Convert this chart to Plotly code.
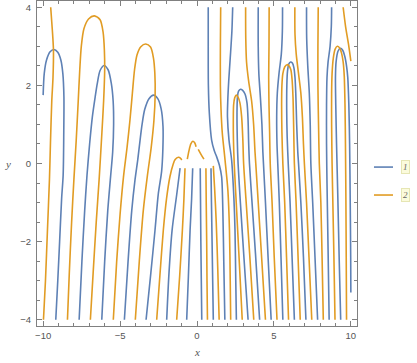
import plotly.graph_objects as go

BLUE = "#5E81B5"
GOLD = "#E19C24"

# ---------------- series 1 (blue) zero-contour paths, (x, y)
b_edge_arch = [(-10.0, 1.75), (-9.93, 2.3), (-9.78, 2.65), (-9.55, 2.86), (-9.30, 2.92), (-9.05, 2.85),
               (-8.85, 2.65), (-8.72, 2.3), (-8.65, 1.7), (-8.66, 0.8), (-8.70, -0.3), (-8.80, -0.9),
               (-8.93, -2.0), (-9.05, -3.0), (-9.18, -4.0)]
b_arch_m6 = [(-7.66, -4.0), (-7.48, -2.5), (-7.30, -1.2), (-7.15, -0.3), (-6.98, 0.5), (-6.80, 1.2),
             (-6.62, 1.7), (-6.48, 2.05), (-6.30, 2.38), (-6.04, 2.51), (-5.78, 2.40), (-5.57, 2.05),
             (-5.45, 1.6), (-5.42, 1.0), (-5.48, 0.3), (-5.62, -0.35), (-5.80, -1.2), (-6.0, -2.5), (-6.19, -4.0)]
b_arch_m3 = [(-4.72, -4.0), (-4.48, -2.5), (-4.24, -1.2), (-4.03, -0.42), (-3.85, 0.1), (-3.70, 0.6),
             (-3.57, 1.0), (-3.40, 1.38), (-3.12, 1.66), (-2.82, 1.75), (-2.55, 1.66), (-2.33, 1.4),
             (-2.21, 0.95), (-2.22, 0.35), (-2.30, -0.2), (-2.51, -0.76), (-2.73, -1.71), (-3.0, -2.8), (-3.31, -4.0)]
b_gap_m1 = [(-1.10, -0.12), (-1.32, -0.8), (-1.62, -1.71), (-1.82, -2.8), (-1.97, -4.0)]
b_gap_m03 = [(-0.28, -0.12), (-0.35, -0.9), (-0.45, -1.71), (-0.56, -2.9), (-0.67, -4.0)]
b_gap_p02 = [(0.21, -0.12), (0.23, -1.0), (0.25, -2.0), (0.28, -3.0), (0.31, -4.0)]
b_gap_p09 = [(0.91, -0.12), (0.94, -1.0), (0.98, -2.0), (1.02, -3.0), (1.06, -4.0)]
b_top_07 = [(0.73, 4.0), (0.73, 3.0), (0.74, 2.0), (0.80, 1.3), (0.95, 0.6), (1.12, 0.33), (1.28, 0.17),
            (1.46, -0.05), (1.60, -0.34), (1.68, -1.2), (1.74, -2.5), (1.81, -4.0)]
b_top_23 = [(2.32, 4.0), (2.27, 3.4), (2.16, 2.7), (2.06, 2.1), (2.0, 1.6), (1.98, 1.2), (2.08, 0.6),
            (2.25, 0.09), (2.40, -0.9), (2.47, -1.71), (2.52, -3.0), (2.56, -4.0)]
b_arch_p28 = [(3.32, -4.0), (3.05, -2.4), (2.82, -1.0), (2.67, 0.0), (2.62, 0.6), (2.60, 1.3), (2.63, 1.7),
              (2.70, 1.85), (2.83, 1.90), (2.97, 1.87), (3.12, 1.78), (3.25, 1.55), (3.32, 1.1), (3.36, 0.5),
              (3.41, 0.0), (3.56, -0.9), (3.80, -2.3), (4.07, -4.0)]
b_top_40 = [(3.98, 4.0), (3.98, 3.0), (4.02, 2.3), (4.12, 1.7), (4.22, 1.0), (4.28, 0.3), (4.32, 0.0),
            (4.45, -1.0), (4.62, -2.4), (4.82, -4.0)]
b_top_56 = [(5.56, 4.0), (5.55, 3.4), (5.48, 2.8), (5.33, 2.3), (5.22, 1.8), (5.18, 1.2), (5.20, 0.5),
            (5.25, 0.0), (5.35, -1.0), (5.46, -2.4), (5.58, -4.0)]
b_arch_p61 = [(6.33, -4.0), (6.18, -2.4), (6.05, -1.0), (5.93, 0.0), (5.86, 0.7), (5.83, 1.4), (5.84, 2.0),
              (5.88, 2.35), (5.97, 2.55), (6.08, 2.60), (6.20, 2.57), (6.30, 2.45), (6.37, 2.2), (6.42, 1.8),
              (6.48, 1.0), (6.55, 0.3), (6.60, 0.0), (6.75, -1.0), (6.92, -2.4), (7.08, -4.0)]
b_top_71 = [(7.12, 4.0), (7.13, 3.2), (7.20, 2.5), (7.30, 1.8), (7.36, 1.0), (7.40, 0.0), (7.52, -1.0),
            (7.67, -2.4), (7.84, -4.0)]
b_top_88 = [(8.75, 4.0), (8.73, 3.5), (8.65, 3.0), (8.52, 2.6), (8.45, 2.2), (8.42, 1.5), (8.42, 0.5),
            (8.45, -0.5), (8.52, -2.2), (8.59, -4.0)]
b_arch_p93 = [(9.34, -4.0), (9.24, -2.4), (9.15, -0.8), (9.07, 0.5), (9.02, 1.5), (9.0, 2.2), (9.04, 2.6),
              (9.17, 2.88), (9.33, 2.95), (9.47, 2.9), (9.62, 2.72), (9.73, 2.47), (9.80, 2.2), (9.87, 1.5),
              (9.92, 0.5), (9.96, -1.0), (9.99, -2.4), (10.0, -3.3)]

# ---------------- series 2 (yellow) zero-contour paths
y_edge_line = [(-9.51, 4.0), (-9.40, 3.4), (-9.33, 2.9), (-9.36, 2.2), (-9.44, 1.6), (-9.52, 0.6),
               (-9.59, -0.4), (-9.72, -1.7), (-9.85, -3.0), (-9.98, -4.0)]
y_arch_m7 = [(-8.42, -4.0), (-8.30, -2.8), (-8.15, -1.5), (-8.0, -0.4), (-7.85, 0.6), (-7.72, 1.6),
             (-7.62, 2.4), (-7.52, 3.0), (-7.35, 3.45), (-7.05, 3.70), (-6.67, 3.78), (-6.30, 3.68),
             (-6.10, 3.35), (-6.02, 2.9), (-6.0, 2.4), (-6.07, 1.6), (-6.18, 0.8), (-6.36, -0.4),
             (-6.55, -1.5), (-6.75, -2.8), (-6.93, -4.0)]
y_arch_m3 = [(-5.44, -4.0), (-5.22, -2.5), (-5.0, -1.3), (-4.78, -0.35), (-4.55, 0.4), (-4.36, 1.1),
             (-4.20, 1.8), (-4.06, 2.4), (-3.90, 2.78), (-3.65, 2.99), (-3.33, 3.06), (-3.02, 2.98),
             (-2.83, 2.7), (-2.74, 2.3), (-2.72, 1.75), (-2.80, 1.1), (-2.98, 0.4), (-3.22, -0.3),
             (-3.49, -1.2), (-3.75, -2.5), (-4.01, -4.0)]
y_small_m12 = [(-2.62, -4.0), (-2.40, -2.8), (-2.19, -1.71), (-1.98, -0.9), (-1.76, -0.34), (-1.56, -0.03),
               (-1.42, 0.10), (-1.21, 0.16), (-1.08, 0.14), (-0.99, 0.09)]
y_gap_m08 = [(-0.78, -0.12), (-0.85, -0.9), (-0.95, -1.71), (-1.13, -2.9), (-1.32, -4.0)]
y_mid_left = [(-0.63, 0.11), (-0.52, 0.33), (-0.40, 0.50), (-0.27, 0.57), (-0.15, 0.53), (-0.06, 0.43)]
y_mid_right = [(0.08, 0.36), (0.25, 0.24), (0.45, 0.11)]
y_gap_p06 = [(0.58, -0.12), (0.60, -1.0), (0.63, -2.0), (0.65, -3.0), (0.68, -4.0)]
y_gap_p11 = [(1.06, -0.06), (1.14, -0.6), (1.25, -1.5), (1.35, -2.7), (1.44, -4.0)]
y_top_15 = [(1.54, 4.0), (1.52, 3.0), (1.52, 2.0), (1.56, 1.4), (1.64, 0.8), (1.82, 0.1), (2.01, -0.7),
            (2.11, -1.7), (2.16, -3.0), (2.19, -4.0)]
y_arch_p26 = [(2.94, -4.0), (2.72, -2.3), (2.55, -1.0), (2.42, 0.0), (2.37, 0.6), (2.36, 1.1), (2.38, 1.5),
              (2.45, 1.68), (2.55, 1.75), (2.67, 1.70), (2.79, 1.55), (2.90, 1.2), (2.98, 0.6), (3.03, 0.0),
              (3.18, -0.9), (3.42, -2.3), (3.69, -4.0)]
y_top_32 = [(3.16, 4.0), (3.17, 3.2), (3.22, 2.6), (3.36, 2.1), (3.55, 1.6), (3.68, 1.0), (3.77, 0.3),
            (3.82, 0.0), (3.98, -1.0), (4.20, -2.4), (4.45, -4.0)]
y_top_47 = [(4.69, 4.0), (4.68, 3.0), (4.66, 2.2), (4.68, 1.5), (4.72, 0.8), (4.76, 0.0), (4.88, -1.0),
            (5.02, -2.4), (5.20, -4.0)]
y_arch_p59 = [(5.95, -4.0), (5.82, -2.4), (5.70, -1.0), (5.58, 0.0), (5.52, 0.8), (5.50, 1.5), (5.52, 2.0),
              (5.58, 2.3), (5.70, 2.47), (5.85, 2.53), (5.98, 2.50), (6.10, 2.4), (6.18, 2.15), (6.24, 1.7),
              (6.28, 1.0), (6.33, 0.0), (6.44, -1.0), (6.57, -2.4), (6.71, -4.0)]
y_top_64 = [(6.36, 4.0), (6.37, 3.3), (6.45, 2.8), (6.60, 2.3), (6.75, 1.8), (6.85, 1.2), (6.92, 0.5),
            (6.98, 0.0), (7.12, -1.0), (7.28, -2.4), (7.46, -4.0)]
y_top_79 = [(7.88, 4.0), (7.86, 3.0), (7.86, 2.0), (7.90, 1.0), (7.95, 0.0), (8.05, -1.0), (8.13, -2.4),
            (8.21, -4.0)]
y_arch_p91 = [(8.97, -4.0), (8.90, -2.4), (8.83, -1.0), (8.78, 0.0), (8.75, 1.0), (8.75, 1.8), (8.78, 2.3),
              (8.86, 2.7), (8.98, 2.93), (9.12, 3.0), (9.27, 2.96), (9.40, 2.82), (9.50, 2.6), (9.57, 2.25),
              (9.62, 1.5), (9.65, 0.5), (9.68, -1.0), (9.70, -2.4), (9.72, -4.0)]
y_top_95 = [(9.50, 4.0), (9.66, 3.5), (9.85, 3.05), (10.0, 2.62)]

series1_paths = [b_edge_arch, b_arch_m6, b_arch_m3, b_gap_m1, b_gap_m03, b_gap_p02, b_gap_p09,
                 b_top_07, b_top_23, b_arch_p28, b_top_40, b_top_56, b_arch_p61, b_top_71, b_top_88,
                 b_arch_p93]
series2_paths = [y_edge_line, y_arch_m7, y_arch_m3, y_small_m12, y_gap_m08, y_mid_left, y_mid_right,
                 y_gap_p06, y_gap_p11, y_top_15, y_arch_p26, y_top_32, y_top_47, y_arch_p59, y_top_64,
                 y_top_79, y_arch_p91, y_top_95]

x_ticks = [-10, -5, 0, 5, 10]
y_ticks = [-4, -2, 0, 2, 4]
legend_labels = ["1", "2"]


def joined(paths):
    xs, ys = [], []
    for p in paths:
        xs += [pt[0] for pt in p] + [None]
        ys += [pt[1] for pt in p] + [None]
    return xs, ys


fig = go.Figure()
for paths, col in [(series1_paths, BLUE), (series2_paths, GOLD)]:
    xs, ys = joined(paths)
    fig.add_trace(go.Scatter(x=xs, y=ys, mode="lines", line=dict(color=col, width=1.6, shape="spline",
                                                                   smoothing=0.8),
                             connectgaps=False, hoverinfo="skip", showlegend=False))

FRAME = "#808080"
TXT = "#555555"
axis_common = dict(showgrid=False, zeroline=False, showline=True, linecolor=FRAME, linewidth=1,
                   mirror="allticks", ticks="inside", ticklen=5, tickcolor=FRAME, tickwidth=1,
                   tickfont=dict(family="Liberation Sans, Arial, sans-serif", size=9.5, color=TXT))
fig.update_xaxes(range=[-10.4, 10.4], tickvals=x_ticks, ticktext=[f"{v}".replace("-", "\u2212") for v in x_ticks],
                 minor=dict(dtick=1, ticklen=3, ticks="inside", tickcolor=FRAME, tick0=0),
                 ticklabelstandoff=1, **axis_common)
fig.update_yaxes(range=[-4.16, 4.16], tickvals=y_ticks, ticktext=[f"{v}".replace("-", "\u2212") for v in y_ticks],
                 minor=dict(dtick=0.5, ticklen=3, ticks="inside", tickcolor=FRAME, tick0=0),
                 ticklabelstandoff=3, **axis_common)

annotations = [
    dict(x=0.5, y=-0.08, xref="paper", yref="paper", text="<i>x</i>", showarrow=False,
         xanchor="center", yanchor="middle",
         font=dict(family="Liberation Serif, serif", size=11, color=TXT)),
    dict(x=-0.09, y=0.50, xref="paper", yref="paper", text="<i>y</i>", showarrow=False,
         xanchor="center", yanchor="middle",
         font=dict(family="Liberation Serif, serif", size=11, color=TXT)),
]
shapes = []
for lab, col, py in zip(legend_labels, [BLUE, GOLD], [0.489, 0.403]):
    shapes.append(dict(type="line", xref="paper", yref="paper", x0=1.053, x1=1.1125, y0=py, y1=py,
                       line=dict(color=col, width=1.6)))
    annotations.append(dict(x=1.153, y=py, xref="paper", yref="paper", text=f"<i>{lab}</i>", showarrow=False,
                            xanchor="center", yanchor="middle",
                            bgcolor="#fbfbdc", bordercolor="#e6e6b4", borderwidth=1, borderpad=1,
                            font=dict(family="Liberation Serif, serif", size=9, color="#666666")))

fig.update_layout(width=417, height=363, margin=dict(l=37, r=60, t=1, b=37),
                  plot_bgcolor="white", paper_bgcolor="white", showlegend=False,
                  annotations=annotations, shapes=shapes)

fig.write_html("out.html", config={"displayModeBar": False},
               post_script="document.body.style.margin='0';document.body.style.overflow='hidden';")
